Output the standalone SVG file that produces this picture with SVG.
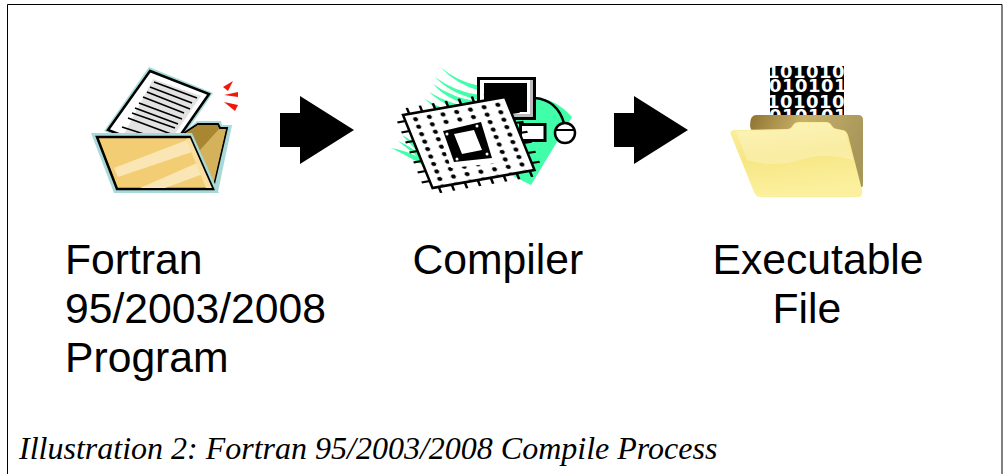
<svg xmlns="http://www.w3.org/2000/svg" width="1003" height="474" viewBox="0 0 1003 474">
<style>
.lbl{font-family:"Liberation Sans",Arial,sans-serif;font-size:42.67px;fill:#000}
.cap{font-family:"Liberation Serif","Times New Roman",serif;font-style:italic;font-size:32px;fill:#000}
.bin{font-family:"DejaVu Sans",sans-serif;font-weight:700;font-size:18px;letter-spacing:0.5px;fill:#fff}
.arrow{fill:#000}
.wisp{fill:#40ffa8}
</style>
<defs>
<pattern id="dots" patternUnits="userSpaceOnUse" x="3.35" y="2.37" width="13.7" height="7.46"><ellipse cx="6.85" cy="3.73" rx="2.4" ry="2" fill="#000"/></pattern>
<linearGradient id="backG" x1="0" y1="0" x2="1" y2="0.3"><stop offset="0" stop-color="#8f7430"/><stop offset="0.45" stop-color="#c7b06a"/><stop offset="1" stop-color="#a8975a"/></linearGradient>
<linearGradient id="frontG" x1="0" y1="0" x2="0.2" y2="1"><stop offset="0" stop-color="#fcf0a2"/><stop offset="0.5" stop-color="#f7e684"/><stop offset="1" stop-color="#fbf09e"/></linearGradient>
<clipPath id="binClip"><rect x="770" y="66" width="74" height="50"/></clipPath>
</defs>
<path d="M7.500,474 V4.500 H1002 V474" fill="#fff" stroke="#000" stroke-width="1"/>

<g id="connectors">
<polygon class="arrow" points="280,113 300,113 300,96 354,130 300,164 300,147 280,147"/>
<polygon class="arrow" points="614,113 634,113 634,96 688,130 634,164 634,147 614,147"/>
</g>

<g id="node-source">
<polygon points="149,67 213,93 170,156 104,131" fill="#a8d8d8"/>
<polygon points="150,71 209,94 168,153 108,130" fill="#fff" stroke="#000" stroke-width="2.500"/>
<polygon points="153,79 201,96 172,138 122,138" fill="#e2e2e2"/>
<g stroke="#000" stroke-width="1.600">
<line x1="154" y1="82" x2="197" y2="98"/><line x1="150" y1="87" x2="192" y2="103"/><line x1="147" y1="92" x2="190" y2="109"/><line x1="143" y1="97" x2="184" y2="113"/><line x1="139" y1="103" x2="182" y2="119"/><line x1="135" y1="108" x2="178" y2="124"/><line x1="132" y1="113" x2="175" y2="128"/><line x1="128" y1="118" x2="171" y2="134"/><line x1="122" y1="127" x2="150" y2="136"/>
</g>
<polygon points="180,136 197,121 221,121 222,125 232,125 218,192 190,192" fill="#a8d8d8"/>
<polygon points="181,135 198,124 218,124 220,128 227,128 213,188 195,150" fill="#c9a64e" stroke="#000" stroke-width="2"/>
<polygon points="200,150 218,130 226,129 213,186" fill="#d4b25c"/>
<polygon points="183,136 198,125 217,125 219,129 218,130 200,150 196,152" fill="#a98632"/>
<polygon points="91,133 192,133 219,193 114,193" fill="#a8d8d8"/>
<polygon points="97,137 190,137 213,189 117,189" fill="#f3cd73" stroke="#000" stroke-width="2.500"/>
<polygon points="187,140 192,152 118,177 114,168" fill="#fae6b4"/>
<polygon points="197,163 203,174 165,188 140,188" fill="#fae6b4"/>
<polygon points="186,139 190,138 212,188 206,188" fill="#f9dfa0"/>
<g fill="#f01808">
<polygon points="223,87 233,81 228,91"/>
<polygon points="224,95 238,92 238,97"/>
<polygon points="224,102 238,105 235,111"/>
</g>
</g>

<g id="node-compiler">
<path class="wisp" d="M440,67 Q458,82 480,86 L480,91 Q456,84 440,67Z"/>
<path class="wisp" d="M435,77 Q455,92 480,95 L480,100 Q452,95 435,77Z"/>
<path class="wisp" d="M433,84 Q452,98 480,102 L480,107 Q450,103 433,84Z"/>
<path class="wisp" d="M429,92 Q450,105 480,109 L480,114 Q448,110 429,92Z"/>
<path class="wisp" d="M425,99 Q445,112 470,115 L470,120 Q442,117 425,99Z"/>
<path class="wisp" d="M402,135 Q412,140 422,150 L422,156 Q410,144 402,135Z"/>
<path class="wisp" d="M398,141 Q410,146 422,156 L424,162 Q408,149 398,141Z"/>
<path class="wisp" d="M391,148 Q405,150 425,160 L426,167 Q406,155 391,148Z"/>
<path d="M535,98 Q555,98 572,117 L531,185 L505,172 L515,120Z" fill="#40ffa8"/>
<rect x="478.500" y="78.500" width="56" height="40" fill="#fff" stroke="#000" stroke-width="3"/>
<path d="M533,80 V117 H481 V114 H530 V80Z" fill="#bbb"/>
<rect x="484" y="83" width="43" height="29" fill="#000"/>
<rect x="520.500" y="124.500" width="24.500" height="16" fill="#fff" stroke="#000" stroke-width="3"/>
<path d="M535,98 Q557,100 564,123" fill="none" stroke="#000" stroke-width="2.500"/>
<circle cx="565" cy="133" r="10" fill="#fff" stroke="#000" stroke-width="2.500"/>
<line x1="555" y1="130" x2="575" y2="130" stroke="#000" stroke-width="2"/>
<g transform="matrix(1,-0.176,0.404,1,403,115)">
<line x1="5" y1="-3" x2="100" y2="-3" stroke="#000" stroke-width="6" stroke-dasharray="2.500 10.500"/>
<line x1="5" y1="76" x2="100" y2="76" stroke="#000" stroke-width="6" stroke-dasharray="2.500 10.500"/>
<line x1="-4" y1="5" x2="-4" y2="72" stroke="#000" stroke-width="8" stroke-dasharray="2 8"/>
<line x1="106" y1="5" x2="106" y2="72" stroke="#000" stroke-width="8" stroke-dasharray="2 8"/>
<rect x="0" y="0" width="102" height="73" fill="#fff" stroke="#000" stroke-width="2.500"/>
<rect x="1.500" y="1.500" width="99" height="70" fill="url(#dots)"/>
</g>
<polygon points="438,128 486,118 498,163 451,168" fill="#fff"/>
<polygon points="443,131 481,122 492,158 454,162" fill="#000"/>
<polygon points="454,134 474,130 482,150 462,154" fill="#fff"/>
<g fill="#fff"><circle cx="447" cy="134" r="1.500"/><circle cx="477" cy="126" r="1.500"/><circle cx="487" cy="154" r="1.500"/><circle cx="457" cy="159" r="1.500"/></g>
</g>

<g id="node-executable">
<rect x="770" y="66" width="74" height="50" fill="#000"/>
<g clip-path="url(#binClip)">
<text class="bin" x="767" y="78">101010</text>
<text class="bin" x="769" y="92">010101</text>
<text class="bin" x="767" y="108">101010</text>
<text class="bin" x="769" y="122">010101</text>
</g>
<path d="M750,126 Q750,115 756,115 H858 Q863,115 863,120 V186 L858,190 H800 L760,160Z" fill="url(#backG)"/>
<path d="M731,135 Q729,130 735,130 L787,129 Q791,129 793,125 Q795,122 799,122 L826,122 Q830,122 832,126 Q834,129 838,129 L842,130 Q846,130 848,135 L862,190 Q863,197 858,197 L760,197 Q756,197 754,192 Z" fill="url(#frontG)"/>
<path d="M736,131 L787,130 Q791,130 793,126 Q795,123 799,123 L826,123 Q830,123 832,127 Q834,130 838,130 L842,131 Q846,131 847,136 L853,160 Q825,152 800,160 Q775,168 747,160Z" fill="#fff" fill-opacity="0.25"/>
</g>

<g id="labels">
<text class="lbl" x="65" y="274">Fortran</text>
<text class="lbl" x="65" y="323">95/2003/2008</text>
<text class="lbl" x="65" y="372">Program</text>
<text class="lbl" x="412.500" y="274">Compiler</text>
<text class="lbl" x="712.500" y="274">Executable</text>
<text class="lbl" x="772.500" y="323">File</text>
<text class="cap" x="19" y="459">Illustration 2: Fortran 95/2003/2008 Compile Process</text>
</g>
</svg>
